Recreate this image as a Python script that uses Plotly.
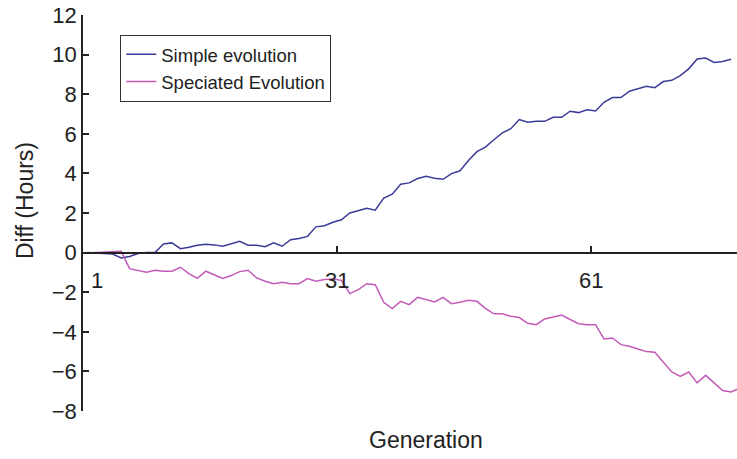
import plotly.graph_objects as go

# Generation index of each plotted point
generations = list(range(1, 79))

simple_evolution = [
    0.00, -0.03, -0.05, -0.07, -0.27, -0.20, -0.05, 0.00, 0.00, 0.44,
    0.49, 0.20, 0.27, 0.37, 0.42, 0.39, 0.32, 0.44, 0.57, 0.37,
    0.37, 0.30, 0.49, 0.32, 0.65, 0.71, 0.82, 1.30, 1.36, 1.53,
    1.66, 2.00, 2.12, 2.24, 2.14, 2.75, 2.95, 3.45, 3.52, 3.74,
    3.85, 3.75, 3.70, 3.99, 4.13, 4.65, 5.10, 5.33, 5.70, 6.05,
    6.26, 6.72, 6.58, 6.63, 6.63, 6.83, 6.83, 7.14, 7.07, 7.21,
    7.15, 7.59, 7.83, 7.83, 8.15, 8.26, 8.40, 8.33, 8.64, 8.70,
    8.94, 9.28, 9.78, 9.83, 9.60, 9.65, 9.76,
]

speciated_evolution = [
    -0.02, 0.00, 0.03, 0.07, 0.07, -0.81, -0.89, -0.99, -0.89, -0.94,
    -0.94, -0.74, -1.06, -1.30, -0.94, -1.11, -1.31, -1.16, -0.96, -0.89,
    -1.28, -1.45, -1.57, -1.50, -1.57, -1.57, -1.31, -1.45, -1.36, -1.33,
    -1.40, -2.07, -1.87, -1.57, -1.62, -2.51, -2.83, -2.46, -2.63, -2.26,
    -2.38, -2.49, -2.26, -2.58, -2.51, -2.41, -2.46, -2.82, -3.09, -3.09,
    -3.22, -3.28, -3.57, -3.64, -3.35, -3.25, -3.15, -3.38, -3.59, -3.64,
    -3.64, -4.36, -4.31, -4.65, -4.73, -4.87, -5.00, -5.03, -5.54, -6.03,
    -6.25, -6.03, -6.58, -6.20, -6.58, -6.97, -7.04, -6.85,
]

x_tick_values = [0.5, 30.5, 60.5]
x_tick_labels = ["1", "31", "61"]
y_tick_values = [-8, -6, -4, -2, 0, 2, 4, 6, 8, 10, 12]
y_tick_labels = ["\u22128", "\u22126", "\u22124", "\u22122", "0", "2", "4", "6", "8", "10", "12"]

FONT = "Liberation Sans, Arial, Helvetica, sans-serif"
TXT = "#222222"

fig = go.Figure()
fig.add_trace(go.Scatter(
    x=generations[:len(simple_evolution)], y=simple_evolution,
    mode="lines", name="Simple evolution",
    line=dict(color="#3b3b98", width=1.5),
))
fig.add_trace(go.Scatter(
    x=generations[:len(speciated_evolution)], y=speciated_evolution,
    mode="lines", name="Speciated Evolution",
    line=dict(color="#c25ab8", width=1.5),
))

fig.update_layout(
    width=737, height=459,
    margin=dict(l=83, r=0, t=15, b=48),
    paper_bgcolor="white", plot_bgcolor="white",
    font=dict(family=FONT, color=TXT, size=22),
    showlegend=True,
    legend=dict(
        x=0.057, y=0.95, xanchor="left", yanchor="top",
        bgcolor="white", bordercolor="#333333", borderwidth=1,
        font=dict(family=FONT, size=18.5, color=TXT),
        tracegroupgap=0,
    ),
    xaxis=dict(
        range=[0.5, 77.7],
        anchor="free", position=0.4,
        showline=True, linecolor="#222222", linewidth=1.5,
        showgrid=False, zeroline=False,
        ticks="inside", ticklen=6, tickwidth=1.5, tickcolor="#222222",
        tickvals=x_tick_values,
        # first label is placed right of the y axis (see annotation below)
        ticktext=[""] + x_tick_labels[1:],
        tickfont=dict(family=FONT, size=22, color=TXT),
        ticklabelstandoff=8, automargin=False,
    ),
    yaxis=dict(
        range=[-8, 12],
        showline=True, linecolor="#222222", linewidth=1.5,
        showgrid=False, zeroline=False,
        ticks="inside", ticklen=6, tickwidth=1.5, tickcolor="#222222",
        tickvals=y_tick_values, ticktext=y_tick_labels,
        tickfont=dict(family=FONT, size=22, color=TXT),
        automargin=False,
    ),
    annotations=[
        dict(text=x_tick_labels[0], xref="x", yref="y",
             x=x_tick_values[0], y=0, xshift=14, yshift=-28,
             xanchor="center", yanchor="middle", showarrow=False,
             font=dict(family=FONT, size=22, color=TXT)),
        dict(text="Generation", xref="paper", yref="paper", x=0.524, y=0,
             yshift=-29, xanchor="center", yanchor="middle", showarrow=False,
             font=dict(family=FONT, size=23, color=TXT)),
        dict(text="Diff (Hours)", xref="paper", yref="paper", x=0, y=0.53,
             xshift=-58, xanchor="center", yanchor="middle", showarrow=False,
             textangle=-90, font=dict(family=FONT, size=23, color=TXT)),
    ],
)

# remove the default page margin so the figure sits at the window's corner
fig.write_html("out.html", config={"displayModeBar": False},
               post_script="document.body.style.margin='0';")
